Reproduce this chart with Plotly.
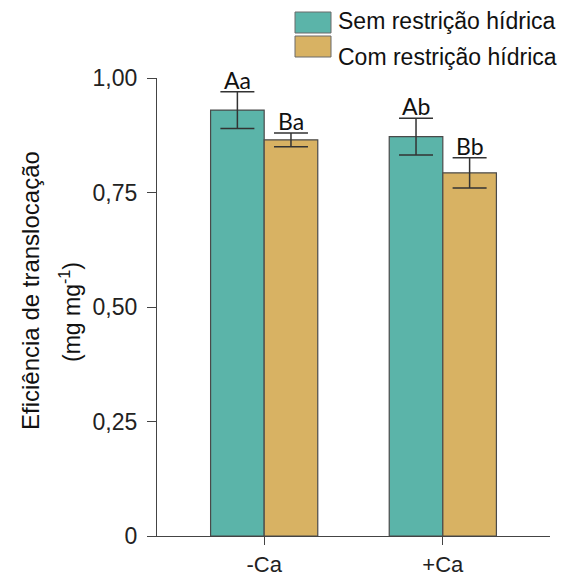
import plotly.graph_objects as go

categories = ["-Ca", "+Ca"]
series_names = ["Sem restrição hídrica", "Com restrição hídrica"]
sem_values = [0.930, 0.872]
sem_errors = [0.040, 0.040]
com_values = [0.865, 0.793]
com_errors = [0.015, 0.033]
sem_letters = ["Aa", "Ab"]
com_letters = ["Ba", "Bb"]
y_tickvals = [0, 0.25, 0.5, 0.75, 1.0]
y_ticktext = ["0", "0,25", "0,50", "0,75", "1,00"]

TEAL = "#5bb4a9"
GOLD = "#d8b263"
EDGE = "#4a4a4a"
AXIS = "#444444"
FONT = "Liberation Sans, Arial, sans-serif"

# the page body adds an 8 px margin; lay out in page pixels and compensate
OFF = 8
W, H = 571 - OFF, 576 - OFF
PAGE_L, PAGE_R, PAGE_T, PAGE_B = 157, 550, 78, 536
L = PAGE_L - OFF
T = PAGE_T - OFF
R = W - (PAGE_R - OFF)
B = H - (PAGE_B - OFF)
PW = W - L - R
PH = H - T - B


def px_x(px):
    return (px - OFF - L) / PW


def px_y(py):
    return (PAGE_B - py) / PH


fig = go.Figure()
for name, vals, errs, col in [
    (series_names[0], sem_values, sem_errors, TEAL),
    (series_names[1], com_values, com_errors, GOLD),
]:
    fig.add_trace(go.Bar(
        x=categories, y=vals, name=name,
        marker=dict(color=col, line=dict(color=EDGE, width=1.2)),
        error_y=dict(type="data", array=errs, visible=True,
                     color="#333333", thickness=1.5, width=17),
        showlegend=False,
    ))

annotations = []
for i, cat in enumerate(categories):
    for letters, vals, errs, shift in [
        (sem_letters, sem_values, sem_errors, -26.8),
        (com_letters, com_values, com_errors, 26.8),
    ]:
        annotations.append(dict(
            x=cat, y=vals[i] + errs[i], xref="x", yref="y",
            text=letters[i], showarrow=False, xshift=shift,
            yanchor="bottom", yshift=-4,
            font=dict(family="Lato, Carlito, sans-serif", size=23, color="#111111"),
        ))

# y-axis title (two lines, rotated)
annotations.append(dict(
    x=px_x(30), y=px_y(291), xref="paper", yref="paper",
    text="Eficiência de translocação", textangle=-90, showarrow=False,
    xanchor="center", yanchor="middle",
    font=dict(family=FONT, size=24, color="#111111"),
))
annotations.append(dict(
    x=px_x(70), y=px_y(312), xref="paper", yref="paper",
    text="(mg mg<sup>-1</sup>)", textangle=-90, showarrow=False,
    xanchor="center", yanchor="middle",
    font=dict(family=FONT, size=23, color="#111111"),
))

# custom legend
shapes = []
legend_rows = [(series_names[0], TEAL, 12, 33, 21.5), (series_names[1], GOLD, 36, 57, 57)]
for name, col, y0, y1, yc in legend_rows:
    shapes.append(dict(
        type="rect", xref="paper", yref="paper",
        x0=px_x(295), x1=px_x(331), y0=px_y(y1), y1=px_y(y0),
        fillcolor=col, line=dict(color="#6a6a6a", width=1),
    ))
    annotations.append(dict(
        x=px_x(336), y=px_y(yc), xref="paper", yref="paper",
        text=name, showarrow=False, xanchor="left", yanchor="middle",
        font=dict(family=FONT, size=23, color="#111111"),
    ))

fig.update_layout(
    width=W, height=H,
    margin=dict(l=L, r=R, t=T, b=B, pad=0, autoexpand=False),
    paper_bgcolor="white", plot_bgcolor="white",
    barmode="group", bargap=0.4, bargroupgap=0,
    font=dict(family=FONT, size=23, color="#222222"),
    annotations=annotations, shapes=shapes,
)
fig.update_xaxes(
    range=[-0.6, 1.6], showline=True, linecolor=AXIS, linewidth=1.3,
    ticks="outside", ticklen=8, tickwidth=1.3, tickcolor=AXIS,
    showgrid=False, zeroline=False, automargin=False, ticklabelstandoff=0,
    tickfont=dict(family=FONT, size=22, color="#222222"),
)
fig.update_yaxes(
    range=[0, 1], showline=True, linecolor=AXIS, linewidth=1.3,
    ticks="outside", ticklen=9, tickwidth=1.3, tickcolor=AXIS,
    tickvals=y_tickvals, ticktext=y_ticktext,
    showgrid=False, zeroline=False, ticklabelstandoff=5, automargin=False,
    tickfont=dict(family=FONT, size=23, color="#222222"),
)

fig.write_html("out.html")
